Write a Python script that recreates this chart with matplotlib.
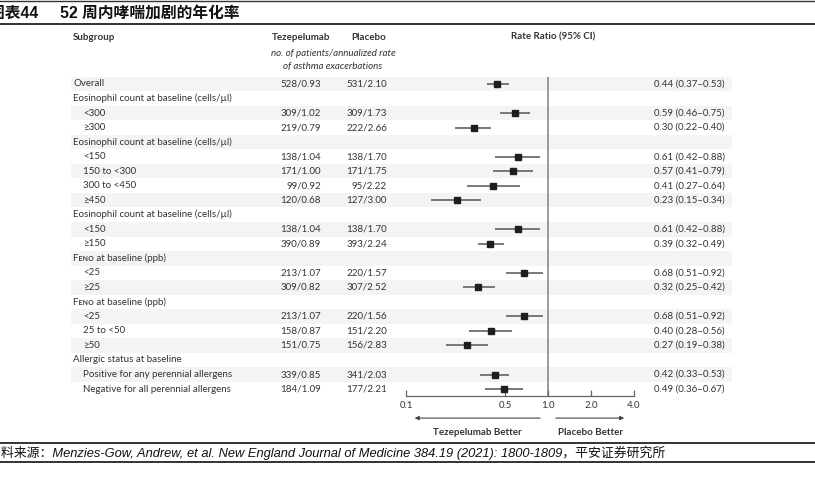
import numpy as np
import matplotlib
matplotlib.use("Agg")
import matplotlib.pyplot as plt
import matplotlib.transforms as mtransforms
from matplotlib.patches import Rectangle
from matplotlib.lines import Line2D

# 亚组标签, 缩进(0=标题行, 1=子项)
labels = ["Overall",
          "Eosinophil count at baseline (cells/µl)", "<300", "≥300",
          "Eosinophil count at baseline (cells/µl)", "<150", "150 to <300", "300 to <450", "≥450",
          "Eosinophil count at baseline (cells/µl)", "<150", "≥150",
          "Fᴇɴᴏ at baseline (ppb)", "<25", "≥25",
          "Fᴇɴᴏ at baseline (ppb)", "<25", "25 to <50", "≥50",
          "Allergic status at baseline", "Positive for any perennial allergens",
          "Negative for all perennial allergens"]
indent = [0, 0, 1, 1, 0, 1, 1, 1, 1, 0, 1, 1, 0, 1, 1, 0, 1, 1, 1, 0, 1, 1]
tez = ["528/0.93", "", "309/1.02", "219/0.79", "", "138/1.04", "171/1.00", "99/0.92", "120/0.68",
       "", "138/1.04", "390/0.89", "", "213/1.07", "309/0.82", "", "213/1.07", "158/0.87", "151/0.75",
       "", "339/0.85", "184/1.09"]
pla = ["531/2.10", "", "309/1.73", "222/2.66", "", "138/1.70", "171/1.75", "95/2.22", "127/3.00",
       "", "138/1.70", "393/2.24", "", "220/1.57", "307/2.52", "", "220/1.56", "151/2.20", "156/2.83",
       "", "341/2.03", "177/2.21"]
nan = np.nan
rr = [0.44, nan, 0.59, 0.30, nan, 0.61, 0.57, 0.41, 0.23, nan, 0.61, 0.39, nan, 0.68, 0.32,
      nan, 0.68, 0.40, 0.27, nan, 0.42, 0.49]
lo = [0.37, nan, 0.46, 0.22, nan, 0.42, 0.41, 0.27, 0.15, nan, 0.42, 0.32, nan, 0.51, 0.25,
      nan, 0.51, 0.28, 0.19, nan, 0.33, 0.36]
hi = [0.53, nan, 0.75, 0.40, nan, 0.88, 0.79, 0.64, 0.34, nan, 0.88, 0.49, nan, 0.92, 0.42,
      nan, 0.92, 0.56, 0.38, nan, 0.53, 0.67]
xticks = [0.1, 0.5, 1.0, 2.0, 4.0]
xticklabels = ["0.1", "0.5", "1.0", "2.0", "4.0"]

W, H = 815, 484
fig = plt.figure(figsize=(W / 100, H / 100), dpi=100, facecolor="white")

def fx(px):
    return px / W

def fy(px):
    return 1 - px / H

FONT = ["Lato", "DejaVu Sans"]
CJK = ["Liberation Sans", "Noto Sans CJK SC"]
TXT = "#333333"
FS = 7

n = len(labels)
rows = np.arange(1, n + 1)
ax = fig.add_axes([fx(406), fy(396.3), fx(633.5) - fx(406), fy(76.7) - fy(396.3)])
ax.set_xscale("log")
ax.set_xlim(0.1, 4.0)
ax.set_ylim(n + 0.5, 0.5)
for s in ["top", "left", "right"]:
    ax.spines[s].set_visible(False)
ax.spines["bottom"].set_color("#666666")
ax.spines["bottom"].set_linewidth(0.9)
ax.set_yticks([])
ax.xaxis.set_major_locator(matplotlib.ticker.FixedLocator(xticks))
ax.xaxis.set_minor_locator(matplotlib.ticker.NullLocator())
ax.set_xticklabels(xticklabels, fontsize=FS, color=TXT, family=FONT)
ax.tick_params(axis="x", direction="in", length=4, width=0.9, color="#666666", pad=3.5)
ax.patch.set_alpha(0)

bt = mtransforms.blended_transform_factory(fig.transFigure, ax.transData)

# 交替底色
for i, r in enumerate(rows):
    if i % 2 == 0:
        ax.add_patch(Rectangle((fx(71), r - 0.5), fx(732) - fx(71), 1, transform=bt,
                               facecolor="#f3f4f4", edgecolor="none", clip_on=False, zorder=0))

ax.axvline(1.0, color="#8a8a8a", lw=1.2, zorder=1)

for i, r in enumerate(rows):
    x0 = 73 if indent[i] == 0 else 83
    ax.text(fx(x0), r, labels[i], transform=bt, ha="left", va="center", fontsize=FS,
            color=TXT, family=FONT)
    if tez[i]:
        ax.text(fx(321), r, tez[i], transform=bt, ha="right", va="center", fontsize=FS,
                color=TXT, family=FONT)
        ax.text(fx(387), r, pla[i], transform=bt, ha="right", va="center", fontsize=FS,
                color=TXT, family=FONT)
    if not np.isnan(rr[i]):
        ax.plot([lo[i], hi[i]], [r, r], color="#555555", lw=1.1, zorder=2, solid_capstyle="butt")
        ax.plot(rr[i], r, marker="s", ms=5, color="#1e1e1e", zorder=3)
        ax.text(fx(725), r, "%.2f (%.2f–%.2f)" % (rr[i], lo[i], hi[i]), transform=bt,
                ha="right", va="center", fontsize=FS, color=TXT, family=FONT)

# 箭头
ax.annotate("", xy=(0.11, n + 2), xytext=(0.92, n + 2), xycoords="data",
            arrowprops=dict(arrowstyle="-|>", color="#444444", lw=0.8, mutation_scale=6),
            annotation_clip=False)
ax.annotate("", xy=(3.6, n + 2), xytext=(1.085, n + 2), xycoords="data",
            arrowprops=dict(arrowstyle="-|>", color="#444444", lw=0.8, mutation_scale=6),
            annotation_clip=False)
ax.text(0.32, n + 3, "Tezepelumab Better", ha="center", va="center", fontsize=FS,
        fontweight="bold", color=TXT, family=FONT, clip_on=False)
ax.text(2.0, n + 3, "Placebo Better", ha="center", va="center", fontsize=FS,
        fontweight="bold", color=TXT, family=FONT, clip_on=False)

# 表头
fig.text(fx(73), fy(37), "Subgroup", ha="left", va="center", fontsize=FS, fontweight="bold",
         color=TXT, family=FONT)
fig.text(fx(301.5), fy(37), "Tezepelumab", ha="center", va="center", fontsize=FS,
         fontweight="bold", color=TXT, family=FONT)
fig.text(fx(369), fy(37), "Placebo", ha="center", va="center", fontsize=FS,
         fontweight="bold", color=TXT, family=FONT)
fig.text(fx(553), fy(37), "Rate Ratio (95% CI)", ha="center", va="center", fontsize=FS,
         fontweight="bold", color=TXT, family=FONT)
fig.text(fx(333), fy(53), "no. of patients/annualized rate", ha="center", va="center",
         fontsize=FS, style="italic", color=TXT, family=FONT)
fig.text(fx(333), fy(67), "of asthma exacerbations", ha="center", va="center",
         fontsize=FS, style="italic", color=TXT, family=FONT)

# 标题和来源
fig.text(fx(-11), fy(13), "图表44     52 周内哮喘加剧的年化率", ha="left", va="center",
         fontsize=11.3, fontweight="bold", color="#111111", family=CJK)
fig.text(fx(-12), fy(453), "资料来源：Menzies-Gow, Andrew, et al. New England Journal of Medicine "
         "384.19 (2021): 1800-1809，平安证券研究所", ha="left", va="center", fontsize=9.3,
         style="italic", color="#111111", family=CJK)

for ypx, lw in [(1, 1.0), (23.5, 1.4), (443, 1.4), (462, 1.4)]:
    fig.add_artist(Line2D([0, 1], [fy(ypx), fy(ypx)], transform=fig.transFigure,
                          color="#333333", lw=lw))

fig.savefig("out.png", dpi=100, facecolor="white")
